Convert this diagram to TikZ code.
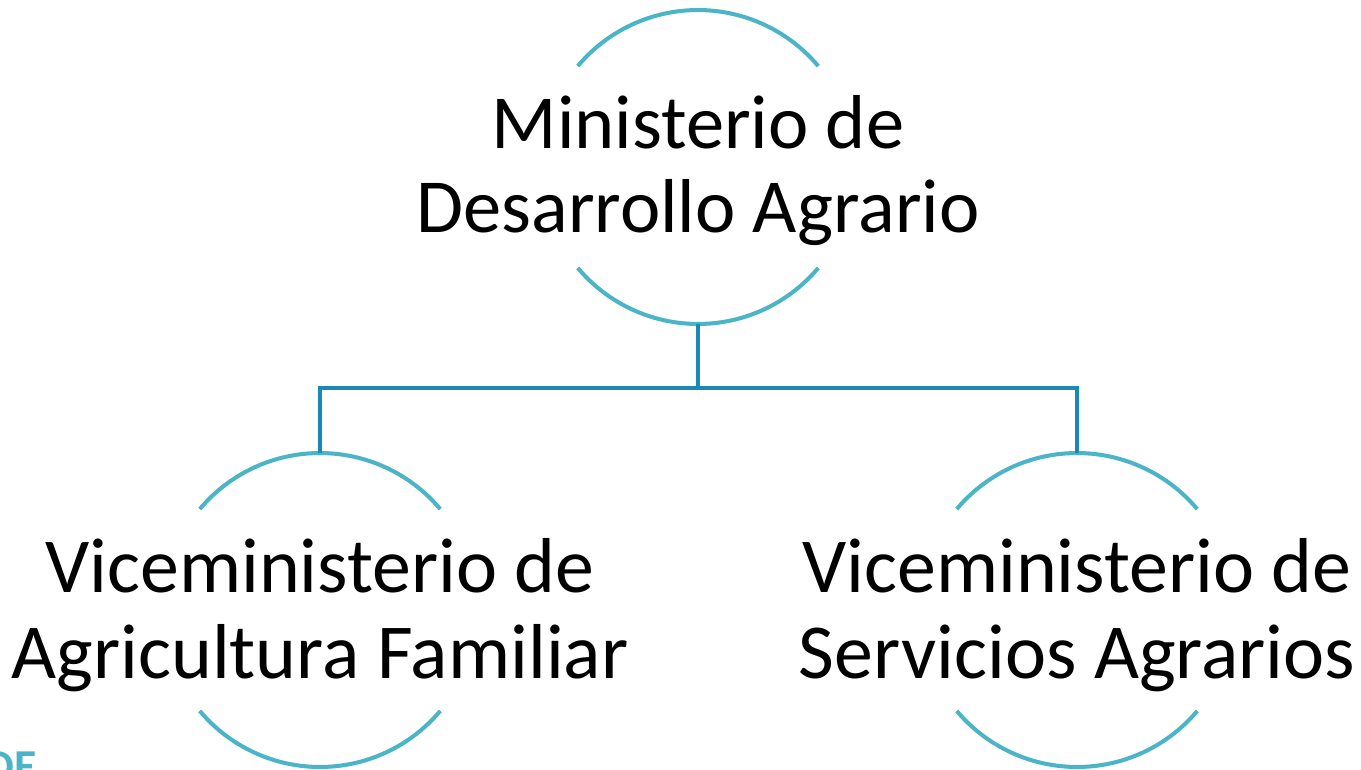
\documentclass[tikz,border=0pt]{standalone}
\usepackage{fontspec}
\setmainfont{Carlito}
\definecolor{ringteal}{RGB}{75,181,199}
\definecolor{linkblue}{RGB}{26,137,181}

\begin{document}
\begin{tikzpicture}[x=0.02cm,y=0.02cm,
		ring node/.style={circle,draw=none,inner sep=0pt,outer sep=0pt,minimum size=6.28cm},
		title node/.style={align=center,inner sep=0pt,font=\fontsize{43.5}{47.5}\selectfont},
		sub node/.style={align=center,inner sep=0pt,font=\fontsize{44.3}{49}\selectfont},
		arc line/.style={draw=ringteal,line width=2.3pt},
		link line/.style={draw=linkblue,line width=2.5pt}]
		
		\useasboundingbox (0,0) rectangle (1361,769);
		\clip (0,0) rectangle (1361,769);
		
		% ministerio
		\node[ring node] (r1) at (698,602) {};
		\node[title node] (t1) at ([yshift=-2]r1) {Ministerio de\\Desarrollo Agrario};
		\path[arc line]
		(r1.40) arc[start angle=40,end angle=140,radius=3.14cm]
		(r1.220) arc[start angle=220,end angle=320,radius=3.14cm];
		
		% viceministerio agricultura familiar
		\node[ring node] (r2) at (320,159) {};
		\node[sub node] (t2) at ([yshift=-3]r2) {Viceministerio de\\Agricultura Familiar};
		\path[arc line]
		(r2.40) arc[start angle=40,end angle=140,radius=3.14cm]
		(r2.220) arc[start angle=220,end angle=320,radius=3.14cm];
		
		% viceministerio servicios agrarios
		\node[ring node] (r3) at (1077,159) {};
		\node[sub node] (t3) at ([yshift=-3]r3) {Viceministerio de\\Servicios Agrarios};
		\path[arc line]
		(r3.40) arc[start angle=40,end angle=140,radius=3.14cm]
		(r3.220) arc[start angle=220,end angle=320,radius=3.14cm];
		
		% links
		\draw[link line] (r1.south) -- ++(0,-64) coordinate (fork);
		\draw[link line] (r2.north) |- (fork) -| (r3.north);
		
		\node[anchor=north east,inner sep=0pt,text=ringteal,font=\fontsize{26}{30}\selectfont\bfseries] (de) at (37,17) {DE};
\end{tikzpicture}
\end{document}
